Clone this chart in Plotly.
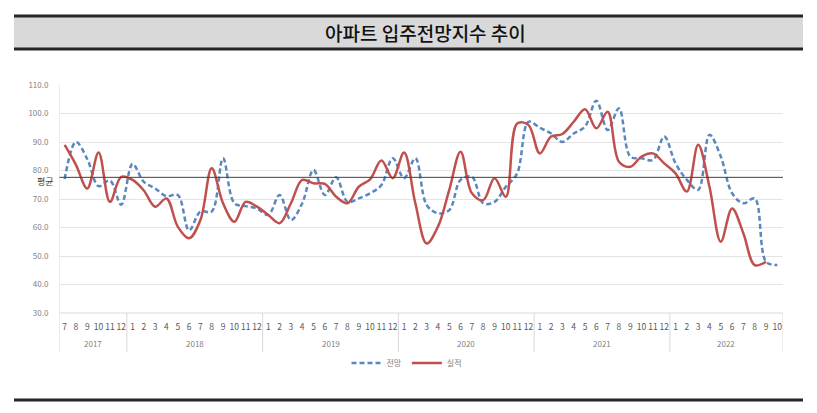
import plotly.graph_objects as go

# ---- data ----
years = ["2017", "2018", "2019", "2020", "2021", "2022"]
year_months = [list(range(7, 13)), list(range(1, 13)), list(range(1, 13)),
               list(range(1, 13)), list(range(1, 13)), list(range(1, 11))]
month_labels = [str(m) for ms in year_months for m in ms]

forecast = [77, 90, 84, 74.5, 76.5, 68,
            82.3, 76, 73.7, 71, 71.4, 59, 65.6, 65.6, 84.3, 68.5, 67.5, 66.7,
            64.4, 71.4, 62.6, 68.5, 80.2, 71.4, 77.6, 69, 70.2, 72, 74.9, 84.3,
            77.3, 84.3, 67.9, 65, 66.1, 76.7, 77.8, 68.5, 69, 74.3, 79, 97.1,
            95, 93, 90, 93, 95.4, 104.5, 94.2, 101.8, 84.9, 84.3, 83.7, 91.9,
            82.5, 76.7, 73.2, 92.5, 84.9, 72, 68.5, 70.2, 48, 46.8]

actual = [89, 82, 73.7, 86.3, 69, 77.8,
          76.7, 73, 67.3, 70.2, 60.3, 56.2, 62.6, 80.8, 68.5, 62, 69, 67.3,
          64.4, 61.5, 68.5, 76.7, 75.5, 75.3, 70.8, 68.5, 74.3, 76.9, 83.5, 77.3,
          86.3, 68.5, 54.4, 60.3, 73.2, 86.6, 72, 69.6, 77.3, 70.8, 96.5, 96,
          86, 91.9, 92.8, 97.1, 101.5, 94.8, 100.6, 83.1, 81.3, 84.9, 86, 82.5,
          79, 72.6, 89, 74.3, 55, 66.7, 57.9, 46.8, 48]

average_value = 77.6
y_ticks = [30, 40, 50, 60, 70, 80, 90, 100, 110]
title_text = "아파트 입주전망지수 추이"
series_names = ["전망", "실적"]
avg_label = "평균"

# ---- geometry helpers (pixel -> paper) ----
W, H = 817, 413
L, R, T, B = 59, 783, 85, 313


def px(x):
    return (x - L) / (R - L)


def py(y):
    return (B - y) / (B - T)


n = len(month_labels)
xs = list(range(n))
FONT = "Noto Sans CJK KR"

fig = go.Figure()
fig.add_trace(go.Scatter(
    x=xs, y=forecast, name=series_names[0], mode="lines",
    line=dict(color="#5B87BF", width=2.5, dash="5px,3px", shape="spline", smoothing=1.0),
))
fig.add_trace(go.Scatter(
    x=xs[:len(actual)], y=actual, name=series_names[1], mode="lines",
    line=dict(color="#C0504D", width=2.5, shape="spline", smoothing=1.0),
))

shapes = []
# average line
shapes.append(dict(type="line", xref="paper", yref="y", x0=0, x1=1,
                   y0=average_value, y1=average_value,
                   line=dict(color="#404040", width=1)))
# title band
shapes.append(dict(type="rect", xref="paper", yref="paper",
                   x0=px(14), x1=px(803), y0=py(49), y1=py(16),
                   fillcolor="#D9D9D9", line=dict(width=0), layer="below"))
for yy in (16, 49):
    shapes.append(dict(type="line", xref="paper", yref="paper",
                       x0=px(14), x1=px(803), y0=py(yy), y1=py(yy),
                       line=dict(color="#262626", width=3)))
# bottom rule
shapes.append(dict(type="line", xref="paper", yref="paper",
                   x0=px(14), x1=px(803), y0=py(400), y1=py(400),
                   line=dict(color="#262626", width=3)))
# category dividers
bounds = [-0.5]
for ms in year_months:
    bounds.append(bounds[-1] + len(ms))
for i, b in enumerate(bounds):
    shapes.append(dict(type="line", xref="x", yref="paper",
                       x0=b, x1=b, y0=py(352), y1=(1 if i == 0 else 0),
                       line=dict(color="#D9D9D9", width=1)))
shapes.append(dict(type="line", xref="paper", yref="paper", x0=0, x1=1,
                   y0=0, y1=0, line=dict(color="#D9D9D9", width=1)))

annotations = []
annotations.append(dict(text=title_text, xref="paper", yref="paper",
                        x=px(426), y=py(33), showarrow=False,
                        xanchor="center", yanchor="middle",
                        font=dict(family=FONT, size=19, color="#111111", weight=500)))
# year labels
start = 0
for yr, ms in zip(years, year_months):
    center = start + (len(ms) - 1) / 2
    annotations.append(dict(text=yr, xref="x", yref="paper", x=center, y=py(343),
                            showarrow=False, xanchor="center", yanchor="middle",
                            font=dict(family=FONT, size=8, color="#7F7F7F")))
    start += len(ms)
annotations.append(dict(text=avg_label, xref="paper", yref="y", x=px(56),
                        y=average_value - 1.5, showarrow=False,
                        xanchor="right", yanchor="middle",
                        font=dict(family=FONT, size=9, color="#404040")))

fig.update_layout(
    width=W, height=H,
    margin=dict(l=L, r=W - R, t=T, b=H - B),
    paper_bgcolor="white", plot_bgcolor="white",
    shapes=shapes, annotations=annotations,
    showlegend=True,
    legend=dict(orientation="h", x=px(407), y=py(363), xanchor="center",
                yanchor="middle", font=dict(family=FONT, size=8, color="#7F7F7F"),
                bgcolor="rgba(0,0,0,0)", tracegroupgap=0, itemwidth=30),
    xaxis=dict(range=[-0.5, n - 0.5], tickmode="array", tickvals=xs,
               ticktext=month_labels, showgrid=False, zeroline=False,
               ticks="outside", ticklen=6, tickcolor="rgba(0,0,0,0)",
               tickfont=dict(family=FONT, size=8.5, color="#595959"),
               tickangle=0, fixedrange=True),
    yaxis=dict(range=[30, 110], tickmode="array", tickvals=y_ticks,
               tickformat=".1f", showgrid=True, gridcolor="#E4E4E4", gridwidth=1,
               zeroline=False, showline=False,
               ticks="outside", ticklen=8, tickcolor="rgba(0,0,0,0)",
               tickfont=dict(family=FONT, size=8, color="#7F7F7F"),
               fixedrange=True),
)

fig.write_html("out.html")
